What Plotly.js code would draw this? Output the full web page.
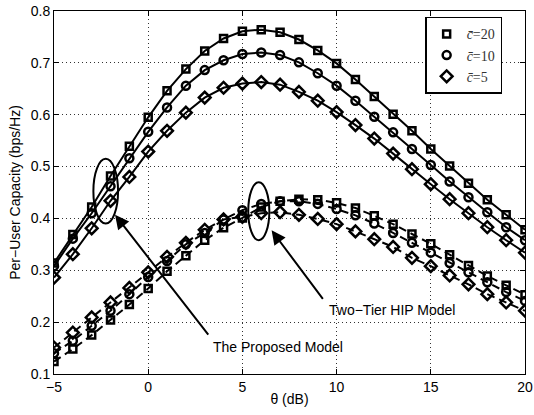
<!DOCTYPE html>
<html>
<head>
<meta charset="utf-8">
<script src="https://cdn.plot.ly/plotly-3.0.1.min.js"></script>
<style>html,body{margin:0;padding:0;background:#fff;}#chart{width:534px;height:415px;}</style>
</head>
<body>
<div id="chart"></div>
<script>
// theta (dB)
const theta = [-5,-4,-3,-2,-1,0,1,2,3,4,5,6,7,8,9,10,11,12,13,14,15,16,17,18,19,20];

// The Proposed Model (solid)
const proposedC20 = [0.314,0.369,0.422,0.482,0.539,0.595,0.646,0.688,0.723,0.747,0.761,0.764,0.759,0.745,0.724,0.699,0.668,0.635,0.601,0.569,0.534,0.501,0.468,0.436,0.407,0.378];
const proposedC10 = [0.308,0.361,0.410,0.462,0.516,0.567,0.614,0.656,0.686,0.705,0.717,0.720,0.715,0.701,0.680,0.656,0.627,0.596,0.566,0.534,0.503,0.471,0.441,0.412,0.383,0.358];
const proposedC5  = [0.286,0.331,0.381,0.434,0.480,0.529,0.569,0.604,0.633,0.652,0.660,0.663,0.658,0.644,0.627,0.605,0.580,0.554,0.525,0.495,0.466,0.437,0.410,0.383,0.358,0.334];

// Two-Tier HIP Model (dashed)
const hipC20 = [0.124,0.148,0.175,0.204,0.234,0.265,0.298,0.328,0.358,0.382,0.401,0.422,0.433,0.437,0.436,0.430,0.420,0.405,0.389,0.370,0.351,0.330,0.309,0.289,0.271,0.253];
const hipC10 = [0.140,0.164,0.193,0.222,0.254,0.287,0.318,0.350,0.372,0.398,0.416,0.428,0.433,0.433,0.428,0.418,0.406,0.390,0.372,0.353,0.334,0.314,0.296,0.277,0.258,0.241];
const hipC5  = [0.151,0.180,0.209,0.238,0.266,0.296,0.326,0.353,0.378,0.398,0.403,0.410,0.412,0.407,0.399,0.389,0.375,0.360,0.345,0.324,0.308,0.290,0.273,0.254,0.238,0.222];

const legendNames = ['<i>c\u0304</i>=20', '<i>c\u0304</i>=10', '<i>c\u0304</i>=5'];
const xTickVals = [-5,0,5,10,15,20];
const yTickVals = [0.1,0.2,0.3,0.4,0.5,0.6,0.7,0.8];

const symbols = ['square-open','circle-open','diamond-open'];
const sizes = [7,8,9];
const proposed = [proposedC20, proposedC10, proposedC5];
const hip = [hipC20, hipC10, hipC5];

const traces = [];
proposed.forEach((ys, i) => {
  traces.push({x: theta, y: ys, mode: 'lines+markers', showlegend: false,
    line: {color: '#000', width: 2},
    marker: {symbol: symbols[i], size: sizes[i], color: '#000', line: {color: '#000', width: 2.5}}});
});
hip.forEach((ys, i) => {
  traces.push({x: theta, y: ys, mode: 'lines+markers', showlegend: false,
    line: {color: '#000', width: 2, dash: '8px,5px'},
    marker: {symbol: symbols[i], size: sizes[i], color: '#000', line: {color: '#000', width: 2.5}}});
});
legendNames.forEach((nm, i) => {
  traces.push({x: [null], y: [null], mode: 'markers', name: nm, showlegend: true,
    marker: {symbol: symbols[i], size: sizes[i], color: '#000', line: {color: '#000', width: 2.5}}});
});

const axisCommon = {
  showline: true, linecolor: '#000', linewidth: 1, mirror: 'ticks',
  ticks: 'inside', ticklen: 5, tickcolor: '#000', tickwidth: 1,
  showgrid: true, gridcolor: '#333', gridwidth: 1, griddash: '1px,3px',
  zeroline: false, tickfont: {size: 14, color: '#000'}
};

const layout = {
  width: 534, height: 415,
  margin: {l: 54, r: 9, t: 11, b: 41},
  paper_bgcolor: '#fff', plot_bgcolor: '#fff',
  font: {family: 'Liberation Sans, Arial, sans-serif', size: 14, color: '#000'},
  xaxis: Object.assign({}, axisCommon, {
    range: [-5, 20], tickvals: xTickVals, ticktext: xTickVals.map(v => v < 0 ? '\u2212' + Math.abs(v) : String(v)),
    title: {text: '\u03b8 (dB)', font: {size: 14}, standoff: 0}
  }),
  yaxis: Object.assign({}, axisCommon, {
    range: [0.1, 0.8], tickvals: yTickVals, ticktext: yTickVals.map(v => v.toFixed(1)),
    title: {text: 'Per\u2212User Capacity (bps/Hz)', font: {size: 14}, standoff: 6}
  }),
  legend: {
    x: 0.788, y: 0.984, xanchor: 'left', yanchor: 'top',
    bgcolor: '#fff', bordercolor: '#000', borderwidth: 1.5,
    font: {family: 'Liberation Serif, Times New Roman, serif', size: 14, color: '#333'},
    itemwidth: 30, tracegroupgap: 0
  },
  shapes: [
    {type: 'circle', xref: 'x', yref: 'y', x0: -2.91, x1: -1.6, y0: 0.39, y1: 0.515, line: {color: '#000', width: 2}},
    {type: 'circle', xref: 'x', yref: 'y', x0: 5.31, x1: 6.43, y0: 0.358, y1: 0.470, line: {color: '#000', width: 2}}
  ],
  annotations: [
    {x: -1.76, y: 0.407, ax: 3.25, ay: 0.173, xref: 'x', yref: 'y', axref: 'x', ayref: 'y',
     text: '', showarrow: true, arrowhead: 2, arrowsize: 1.4, arrowwidth: 2, arrowcolor: '#000'},
    {x: 6.55, y: 0.377, ax: 9.33, ay: 0.242, xref: 'x', yref: 'y', axref: 'x', ayref: 'y',
     text: '', showarrow: true, arrowhead: 2, arrowsize: 1.4, arrowwidth: 2, arrowcolor: '#000'},
    {x: 3.32, y: 0.152, xref: 'x', yref: 'y', xanchor: 'left', yanchor: 'middle', showarrow: false,
     text: 'The Proposed Model', font: {size: 14, color: '#000'}},
    {x: 9.5, y: 0.224, xref: 'x', yref: 'y', xanchor: 'left', yanchor: 'middle', showarrow: false,
     text: 'Two\u2212Tier HIP Model', font: {size: 14, color: '#000'}}
  ]
};

Plotly.newPlot('chart', traces, layout, {displayModeBar: false, staticPlot: true});
</script>
</body>
</html>
